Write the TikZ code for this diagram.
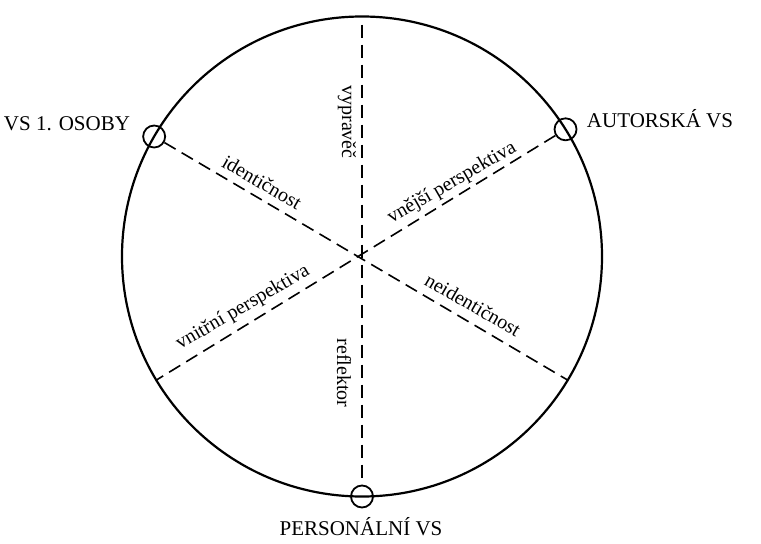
\documentclass[tikz,border=0pt]{standalone}
\usepackage{fontspec}
\setmainfont{Liberation Serif}
\usetikzlibrary{calc, positioning}

\begin{document}
\begin{tikzpicture}[x=0.5pt,y=0.5pt, every node/.style={font=\fontsize{10}{12}\selectfont},
    kolecko/.style={draw, circle, line width=0.9pt, minimum size=11pt, inner sep=0pt},
    prumer/.style={line width=0.8pt, dash pattern=on 6.5pt off 3.5pt},
    velky/.style={font=\fontsize{10.5}{12}\selectfont}]
    \useasboundingbox (0,0) rectangle (761,543);
    \coordinate (c) at (362,286.5);
    \draw[line width=1.1pt] (c) circle (240);
    % body na kruznici
    \node[kolecko] (vs1) at ($(c)+(150:240)$) {};
    \node[kolecko] (autor) at ($(c)+(32:240)$) {};
    \node[kolecko] (pers) at ($(c)+(-90:240)$) {};
    \coordinate (vrch) at ($(c)+(0,232)$);
    \coordinate (pravo) at ($(c)+(-31:240)$);
    \coordinate (levo) at ($(c)+(211:240)$);
    \draw[prumer] (vs1) -- (pravo);
    \draw[prumer] (autor) -- (levo);
    \draw[prumer] (vrch) -- (pers);
    % popisky
    \node[velky] (t1) at (67,419) {VS 1. OSOBY};
    \node[velky] (t2) at (660,424) {AUTORSKÁ VS};
    \node[velky] (t3) at (361,16) {PERSONÁLNÍ VS};
    \node[rotate=-30] (ident) at (262,361) {identičnost};
    \node[rotate=30] (vnejsi) at (452,360) {vnější perspektiva};
    \node[rotate=-30] (neident) at (473,238) {neidentičnost};
    \node[rotate=30] (vnitrni) at (243,235) {vnitřní perspektiva};
    \node[rotate=-90] (vyprav) at (347,421) {vypravěč};
    \node[rotate=-90] (refl) at (344,170) {reflektor};
\end{tikzpicture}
\end{document}
